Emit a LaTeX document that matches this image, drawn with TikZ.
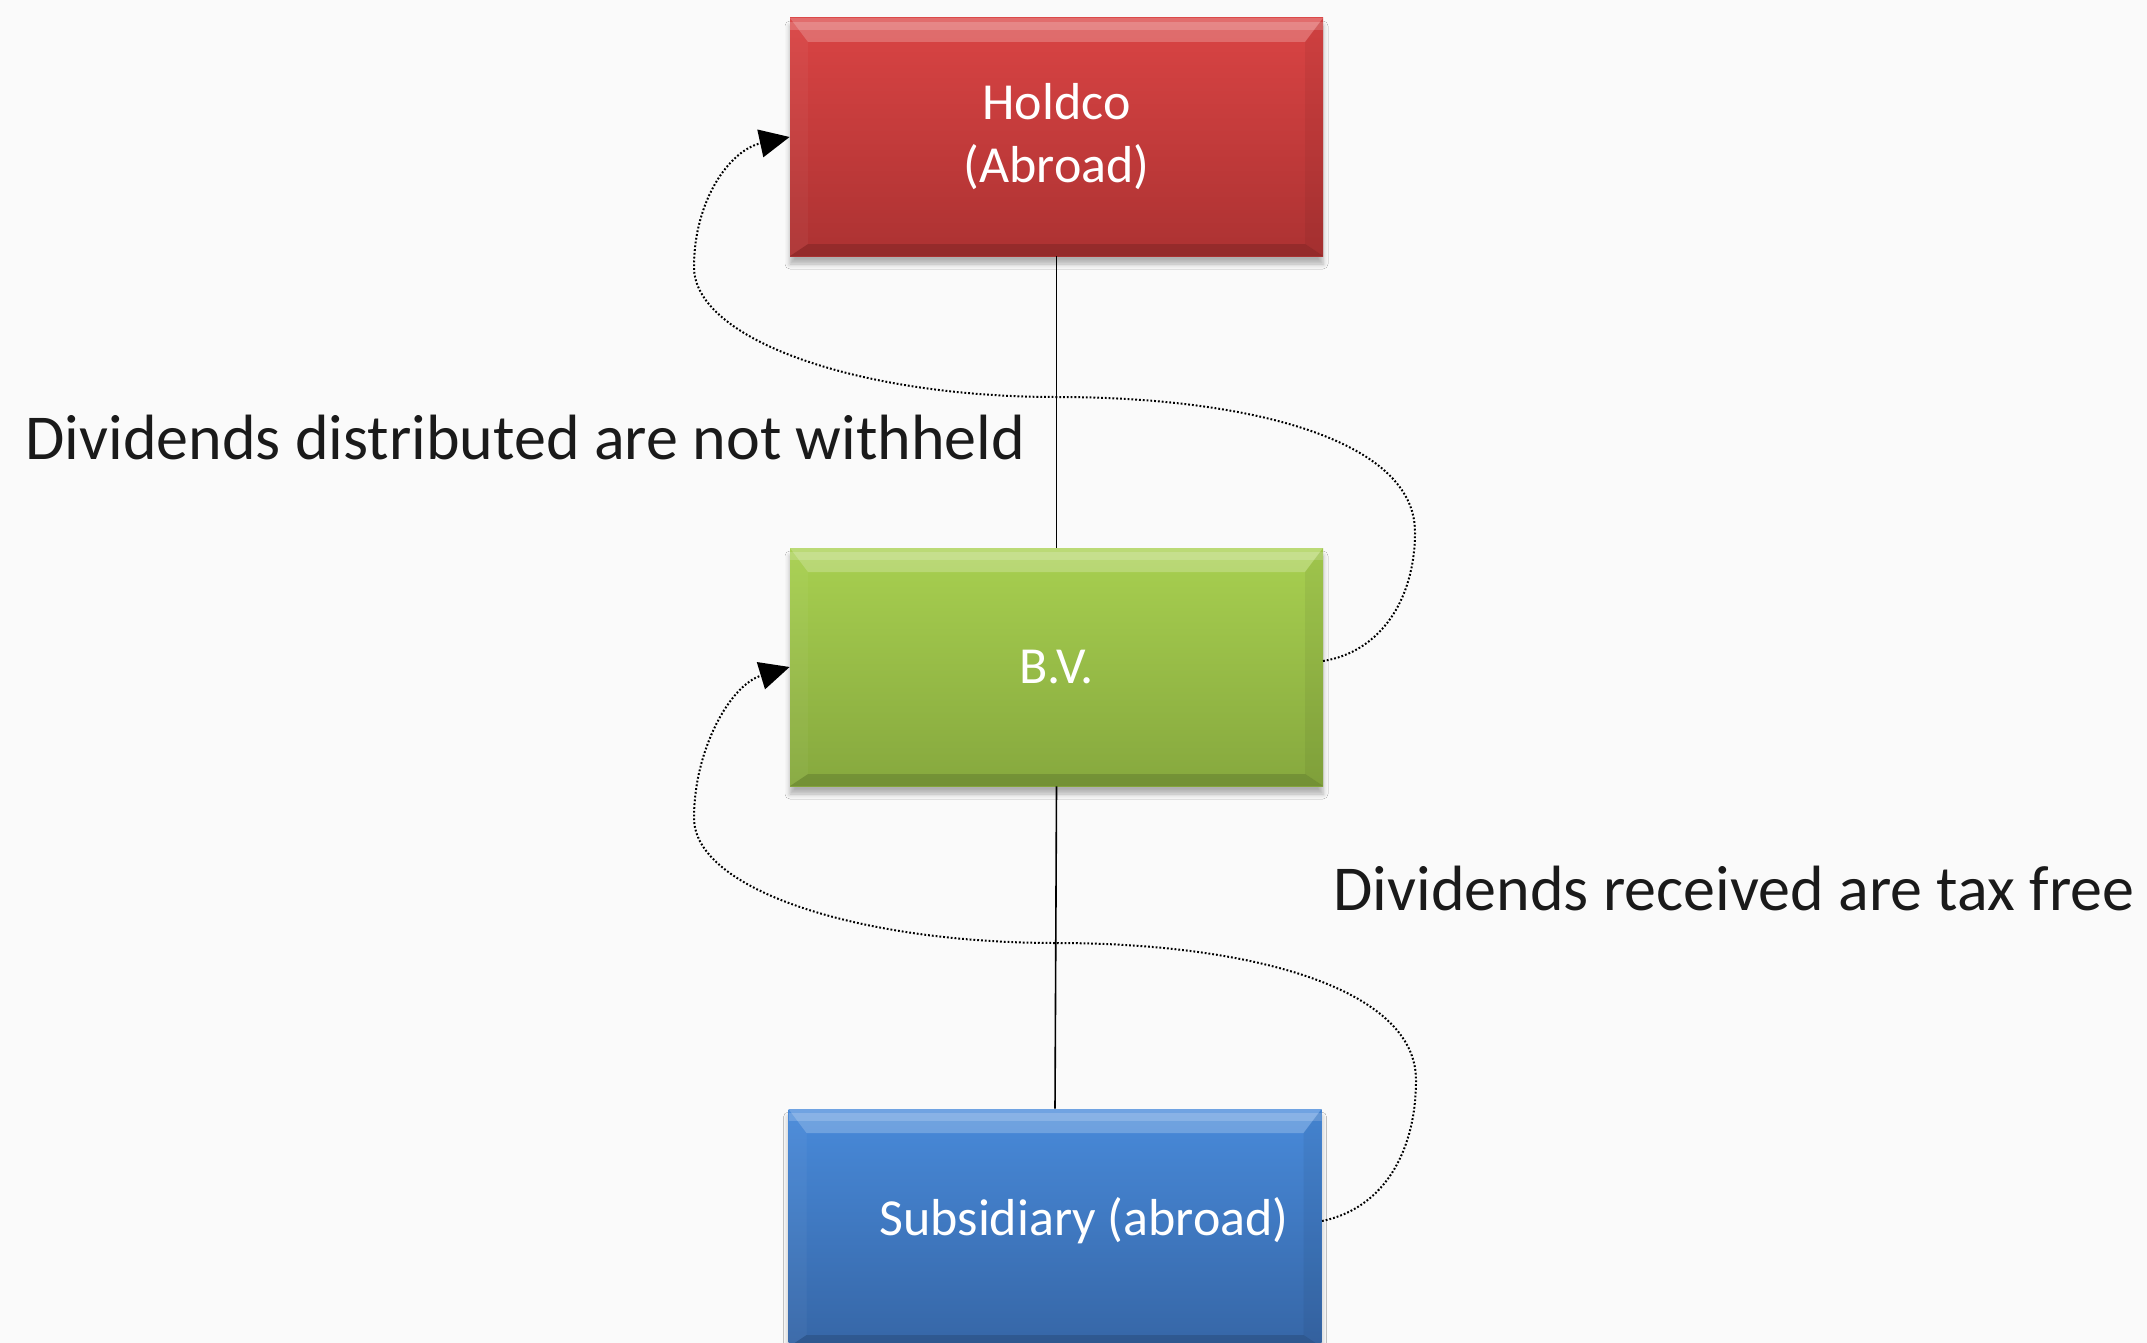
\documentclass[tikz,border=0pt]{standalone}
\usepackage{fontspec}
\setmainfont{Carlito}
\usetikzlibrary{arrows.meta,shadows.blur}
\definecolor{bgc}{RGB}{250,250,250}
\definecolor{redT}{RGB}{218,68,68}
\definecolor{redB}{RGB}{172,50,50}
\definecolor{grnT}{RGB}{168,208,80}
\definecolor{grnB}{RGB}{134,168,62}
\definecolor{bluT}{RGB}{72,138,218}
\definecolor{bluB}{RGB}{54,102,166}
\definecolor{txt}{RGB}{26,26,26}
\newcommand\bevelbands{%
  \fill[white,opacity=0.22] (path picture bounding box.north west) -- (path picture bounding box.north east)
     -- ([xshift=-9pt,yshift=-12pt]path picture bounding box.north east)
     -- ([xshift=9pt,yshift=-12pt]path picture bounding box.north west) -- cycle;
  \fill[white,opacity=0.18] ([yshift=-2pt]path picture bounding box.north west) rectangle ([yshift=-6pt]path picture bounding box.north east);
  \fill[black,opacity=0.14] (path picture bounding box.south west) -- (path picture bounding box.south east)
     -- ([xshift=-9pt,yshift=6pt]path picture bounding box.south east)
     -- ([xshift=9pt,yshift=6pt]path picture bounding box.south west) -- cycle;
  \fill[white,opacity=0.04] (path picture bounding box.north west)
     -- ([xshift=9pt,yshift=-12pt]path picture bounding box.north west)
     -- ([xshift=9pt,yshift=6pt]path picture bounding box.south west)
     -- (path picture bounding box.south west) -- cycle;
  \fill[black,opacity=0.05] (path picture bounding box.north east)
     -- ([xshift=-9pt,yshift=-12pt]path picture bounding box.north east)
     -- ([xshift=-9pt,yshift=6pt]path picture bounding box.south east)
     -- (path picture bounding box.south east) -- cycle;
}
\begin{document}
\begin{tikzpicture}[x=0.5pt,y=-0.5pt,
  corp/.style={minimum width=266.5pt,minimum height=119pt,inner sep=0pt,
    text=white,font=\fontsize{26}{31.5}\selectfont,align=center,
    blur shadow={shadow xshift=0pt,shadow yshift=-4pt,shadow blur radius=2.5pt,shadow opacity=30},
    path picture={\bevelbands}},
  lbl/.style={text=txt,font=\fontsize{32}{38}\selectfont,inner sep=0pt},
  tie/.style={draw=black,line width=0.8pt},
  flow/.style={draw=black,line width=1pt,dash pattern=on 0.9pt off 1pt,
    -{Triangle[length=15pt,width=14pt,fill=black]}}
]
\useasboundingbox[fill=bgc] (0,0) rectangle (2147,1343);
\node[corp,top color=redT,bottom color=redB] (hold) at (1056.5,137) {Holdco\\(Abroad)};
\node[corp,top color=grnT,bottom color=grnB] (bv) at (1056.5,667) {B.V.};
\node[corp,top color=bluT,bottom color=bluB] (sub) at (1055,1228) {};
\node[text=white,font=\fontsize{26}{31.5}\selectfont,inner sep=0pt] (subtext) at (1084,1221) {Subsidiary (abroad)};
\draw[tie] (hold.south) -- (bv.north);
\draw[tie] (bv.south) -- (sub.north);
\node[lbl] (t1) at (525.5,438) {Dividends distributed are not withheld};
\node[lbl] (t2) at (1734,889) {Dividends received are tax free};
\coordinate (s1) at (1323,661);
\coordinate (s2) at (1322,1221);
\draw[flow] (s1) .. controls (1380,652) and (1415,600) .. (1415,532)
  .. controls (1415,440) and (1250,397) .. (1056,397)
  .. controls (860,397) and (694,340) .. (694,267)
  .. controls (694,200) and (730,150) .. (hold.west);
\draw[flow] (s2) .. controls (1385,1208) and (1416,1150) .. (1416,1080)
  .. controls (1416,988) and (1250,943) .. (1056,943)
  .. controls (860,943) and (694,890) .. (694,818)
  .. controls (694,750) and (730,685) .. (bv.west);
\end{tikzpicture}
\end{document}
